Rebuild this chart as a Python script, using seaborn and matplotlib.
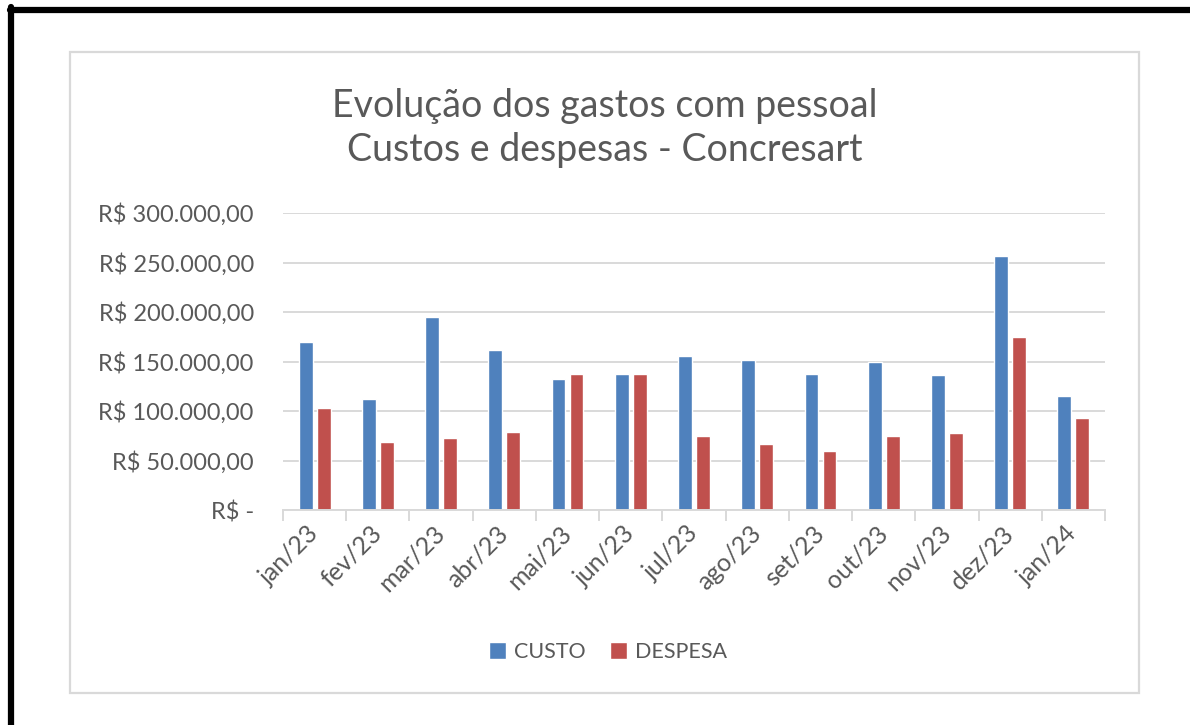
import numpy as np
import pandas as pd
import matplotlib
matplotlib.use('Agg')
import matplotlib.pyplot as plt
from matplotlib.patches import Rectangle, Patch
from matplotlib.lines import Line2D
from matplotlib.ticker import FuncFormatter, FixedLocator
import seaborn as sns

# Data
meses = ["jan/23", "fev/23", "mar/23", "abr/23", "mai/23", "jun/23", "jul/23",
         "ago/23", "set/23", "out/23", "nov/23", "dez/23", "jan/24"]
custo = [170000, 112000, 195000, 162000, 132000, 137000, 156000,
         151500, 137500, 150000, 136000, 257000, 115000]
despesa = [103000, 68500, 73000, 79000, 137000, 137000, 74500,
           67000, 60000, 74500, 78000, 174500, 93000]
series = ["CUSTO", "DESPESA"]
cores = {"CUSTO": "#4F81BD", "DESPESA": "#C0504D"}

df = pd.DataFrame({
    "mes": meses * 2,
    "valor": custo + despesa,
    "tipo": [series[0]] * len(meses) + [series[1]] * len(meses),
})

sns.set_theme(style="white")
plt.rcParams['font.family'] = ['Lato', 'DejaVu Sans']
cinza = "#595959"
grade = "#D9D9D9"

fig = plt.figure(figsize=(11.9, 7.25), dpi=100)
ax = fig.add_axes([283 / 1190, 1 - 510 / 725, 822 / 1190, 297 / 725])

sns.barplot(data=df, x="mes", y="valor", hue="tipo", palette=cores,
            width=0.57, gap=0.23, saturation=1, ax=ax, legend=False)

ax.set_xlim(-0.5, len(meses) - 0.5)
ax.set_ylim(0, 300000)
ax.set_yticks(np.arange(0, 300001, 50000))


def reais(v, pos):
    if v == 0:
        return "R$ -"
    s = f"{v:,.2f}".replace(",", "X").replace(".", ",").replace("X", ".")
    return "R$ " + s


ax.yaxis.set_major_formatter(FuncFormatter(reais))
ax.yaxis.grid(True, color=grade, linewidth=1.4)
ax.set_axisbelow(True)
for lado in ["top", "right", "left"]:
    ax.spines[lado].set_visible(False)
ax.spines["bottom"].set_color(grade)
ax.spines["bottom"].set_linewidth(1.4)

ax.tick_params(axis="y", length=0, pad=21, labelsize=17, labelcolor=cinza)
ax.tick_params(axis="x", which="major", length=0, pad=14, labelsize=18, labelcolor=cinza)
ax.xaxis.set_minor_locator(FixedLocator(np.arange(-0.5, len(meses), 1)))
ax.tick_params(axis="x", which="minor", length=8, width=1.4, color=grade, bottom=True)
for lbl in ax.get_xticklabels():
    lbl.set_rotation(45)
    lbl.set_ha("right")
    lbl.set_va("center")
    lbl.set_rotation_mode("anchor")
ax.set_xlabel("")
ax.set_ylabel("")

fig.text(605 / 1190, 1 - 128 / 725,
         "Evolução dos gastos com pessoal\nCustos e despesas - Concresart",
         ha="center", va="center", fontsize=27, color=cinza, linespacing=1.3)

handles = [Patch(facecolor=cores[s], label=s) for s in series]
fig.legend(handles=handles, loc="center", bbox_to_anchor=(608 / 1190, 1 - 652 / 725),
           ncol=2, frameon=False, fontsize=15.5, handlelength=0.8, handleheight=0.8,
           handletextpad=0.4, columnspacing=1.1, labelcolor=cinza)

# chart frame and page border
fig.add_artist(Rectangle((70 / 1190, 1 - 693 / 725), 1069 / 1190, 641 / 725,
                         transform=fig.transFigure, fill=False,
                         edgecolor=grade, linewidth=1.6))
fig.add_artist(Line2D([10 / 1190, 1], [1 - 10 / 725, 1 - 10 / 725],
                      transform=fig.transFigure, color="black", linewidth=4.5))
fig.add_artist(Line2D([10.5 / 1190, 10.5 / 1190], [0, 1 - 7 / 725],
                      transform=fig.transFigure, color="black", linewidth=4.5))

fig.savefig("out.png", dpi=100)
